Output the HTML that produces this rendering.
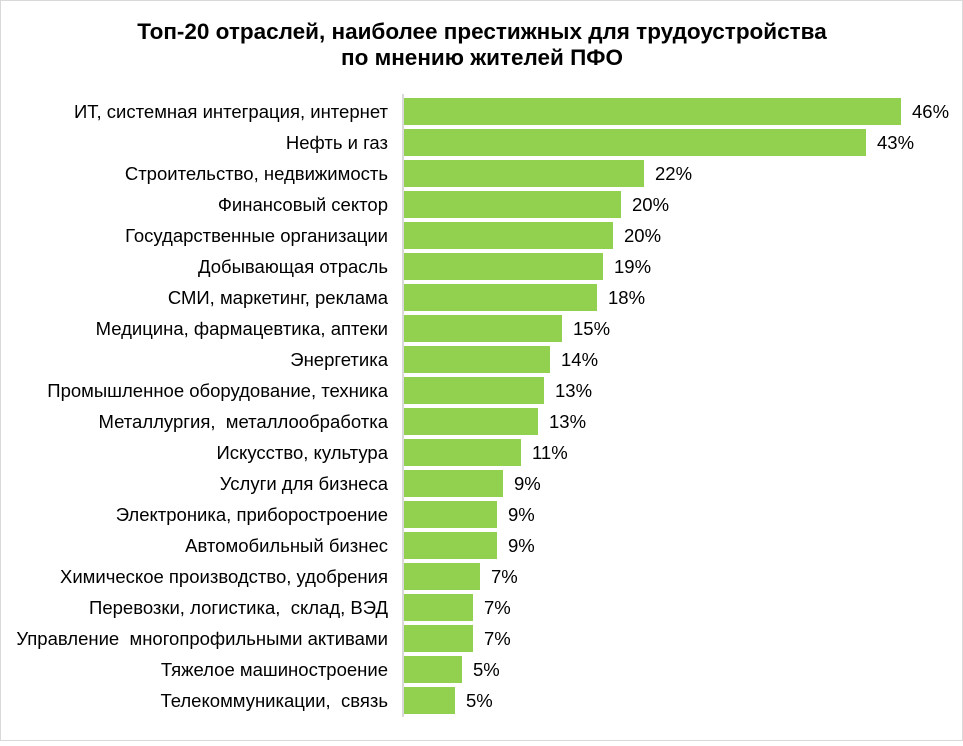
<!DOCTYPE html>
<html><head><meta charset="utf-8"><style>
body{margin:0;background:#fff;}
text{white-space:pre;}
</style></head><body>
<svg width="963" height="741" xmlns="http://www.w3.org/2000/svg" font-family="Liberation Sans, Arial, sans-serif">
<rect x="0.5" y="0.5" width="962" height="740" fill="#fff" stroke="#d9d9d9"/>
<text x="482" y="39" text-anchor="middle" font-size="22.5" font-weight="bold">Топ-20 отраслей, наиболее престижных для трудоустройства</text>
<text x="482" y="65" text-anchor="middle" font-size="22.5" font-weight="bold">по мнению жителей ПФО</text>
<line x1="403" y1="94" x2="403" y2="717" stroke="#d9d9d9" stroke-width="2"/>
<g fill="#92d050">
<rect x="404" y="98" width="497" height="27"/>
<rect x="404" y="129" width="462" height="27"/>
<rect x="404" y="160" width="240" height="27"/>
<rect x="404" y="191" width="217" height="27"/>
<rect x="404" y="222" width="209" height="27"/>
<rect x="404" y="253" width="199" height="27"/>
<rect x="404" y="284" width="193" height="27"/>
<rect x="404" y="315" width="158" height="27"/>
<rect x="404" y="346" width="146" height="27"/>
<rect x="404" y="377" width="140" height="27"/>
<rect x="404" y="408" width="134" height="27"/>
<rect x="404" y="439" width="117" height="27"/>
<rect x="404" y="470" width="99" height="27"/>
<rect x="404" y="501" width="93" height="27"/>
<rect x="404" y="532" width="93" height="27"/>
<rect x="404" y="563" width="76" height="27"/>
<rect x="404" y="594" width="69" height="27"/>
<rect x="404" y="625" width="69" height="27"/>
<rect x="404" y="656" width="58" height="27"/>
<rect x="404" y="687" width="51" height="27"/>
</g>
<g font-size="18.5" fill="#000">
<text x="912" y="118">46%</text>
<text x="877" y="149">43%</text>
<text x="655" y="180">22%</text>
<text x="632" y="211">20%</text>
<text x="624" y="242">20%</text>
<text x="614" y="273">19%</text>
<text x="608" y="304">18%</text>
<text x="573" y="335">15%</text>
<text x="561" y="366">14%</text>
<text x="555" y="397">13%</text>
<text x="549" y="428">13%</text>
<text x="532" y="459">11%</text>
<text x="514" y="490">9%</text>
<text x="508" y="521">9%</text>
<text x="508" y="552">9%</text>
<text x="491" y="583">7%</text>
<text x="484" y="614">7%</text>
<text x="484" y="645">7%</text>
<text x="473" y="676">5%</text>
<text x="466" y="707">5%</text>
</g>
<g font-size="18.5" fill="#000" text-anchor="end">
<text x="388" y="118">ИТ, системная интеграция, интернет</text>
<text x="388" y="149">Нефть и газ</text>
<text x="388" y="180">Строительство, недвижимость</text>
<text x="388" y="211">Финансовый сектор</text>
<text x="388" y="242">Государственные организации</text>
<text x="388" y="273">Добывающая отрасль</text>
<text x="388" y="304">СМИ, маркетинг, реклама</text>
<text x="388" y="335">Медицина, фармацевтика, аптеки</text>
<text x="388" y="366">Энергетика</text>
<text x="388" y="397">Промышленное оборудование, техника</text>
<text x="388" y="428">Металлургия,  металлообработка</text>
<text x="388" y="459">Искусство, культура</text>
<text x="388" y="490">Услуги для бизнеса</text>
<text x="388" y="521">Электроника, приборостроение</text>
<text x="388" y="552">Автомобильный бизнес</text>
<text x="388" y="583">Химическое производство, удобрения</text>
<text x="388" y="614">Перевозки, логистика,  склад, ВЭД</text>
<text x="388" y="645">Управление  многопрофильными активами</text>
<text x="388" y="676">Тяжелое машиностроение</text>
<text x="388" y="707">Телекоммуникации,  связь</text>
</g>
</svg>
</body></html>
